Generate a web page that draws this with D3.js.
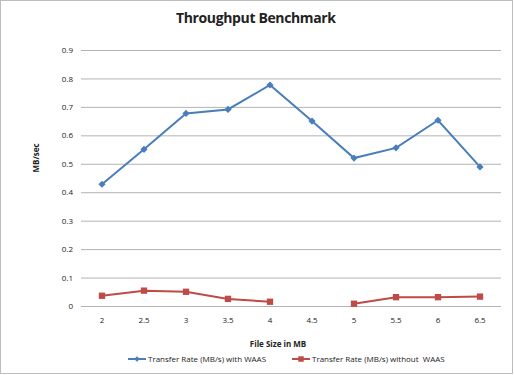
<!DOCTYPE html>
<html>
<head>
<meta charset="utf-8">
<script src="https://cdn.jsdelivr.net/npm/d3@7"></script>
<style>
  body { margin: 0; background: #fff; }
  text { font-family: "Open Sans", "Noto Sans", sans-serif; fill: #222; }
</style>
</head>
<body>
<div id="chart"></div>
<script>
// chart values
const fileSizes = ['2', '2.5', '3', '3.5', '4', '4.5', '5', '5.5', '6', '6.5'];
const withWaas = [0.428, 0.551, 0.677, 0.691, 0.777, 0.650, 0.520, 0.556, 0.653, 0.489];
const withoutWaas = [0.036, 0.054, 0.050, 0.025, 0.015, null, 0.008, 0.031, 0.031, 0.033];
const yTicks = [0, 0.1, 0.2, 0.3, 0.4, 0.5, 0.6, 0.7, 0.8, 0.9];
const seriesNames = ['Transfer Rate (MB/s) with WAAS', 'Transfer Rate (MB/s) without  WAAS'];

const width = 514;
const height = 375;
const blue = '#4a7ebb';
const red = '#be4b48';

const svg = d3.select('#chart').append('svg')
  .attr('width', width)
  .attr('height', height);

// frame round the whole chart
svg.append('rect')
  .attr('x', 0.5).attr('y', 0.5)
  .attr('width', width - 2).attr('height', height - 2)
  .attr('fill', '#fff')
  .attr('stroke', '#bdbdbd');

const x = d3.scaleBand().domain(fileSizes).range([81, 501]);
const y = d3.scaleLinear().domain([0, 0.9]).range([306, 50]);

// gridlines + y tick labels
const yAxis = svg.append('g')
  .attr('transform', 'translate(81,0)')
  .call(d3.axisLeft(y).tickValues(yTicks).tickSize(-420).tickPadding(8)
    .tickFormat(d => d === 0 ? '0' : d3.format('.1f')(d)));
yAxis.select('.domain').remove();
yAxis.selectAll('.tick line').attr('stroke', '#b3b3b3');
yAxis.selectAll('.tick text').style('font-size', '8px').attr('fill', '#333');

// x tick labels
const xAxis = svg.append('g')
  .attr('transform', 'translate(0,306)')
  .call(d3.axisBottom(x).tickSize(0).tickPadding(11));
xAxis.select('.domain').remove();
xAxis.selectAll('.tick text').style('font-size', '8px').attr('fill', '#333');

// titles
svg.append('text')
  .attr('x', 256).attr('y', 23)
  .attr('text-anchor', 'middle')
  .style('font-size', '14px').style('font-weight', 'bold')
  .attr('textLength', 160)
  .text('Throughput Benchmark');

svg.append('text')
  .attr('transform', 'translate(39,158) rotate(-90)')
  .attr('text-anchor', 'middle')
  .style('font-size', '8px').style('font-weight', 'bold')
  .text('MB/sec');

svg.append('text')
  .attr('x', 278).attr('y', 347)
  .attr('text-anchor', 'middle')
  .style('font-size', '8px').style('font-weight', 'bold')
  .text('File Size in MB');

const line = d3.line()
  .defined(d => d.v != null)
  .x(d => x(d.k) + x.bandwidth() / 2)
  .y(d => y(d.v));

// diamonds are drawn as squares turned 45 degrees
function marker(g, shape, size) {
  g.attr('d', d3.symbol().type(d3.symbolSquare).size(size));
  if (shape === 'diamond') g.attr('transform', function() {
    return (this.getAttribute('transform') || '') + ' rotate(45)';
  });
}

function drawSeries(values, color, shape) {
  const pts = fileSizes.map((k, i) => ({k: k, v: values[i]}));
  svg.append('path')
    .datum(pts)
    .attr('fill', 'none')
    .attr('stroke', color)
    .attr('stroke-width', 2)
    .attr('d', line);
  const m = svg.append('g').selectAll('path')
    .data(pts.filter(d => d.v != null))
    .join('path')
    .attr('transform', d => 'translate(' + (x(d.k) + x.bandwidth() / 2) + ',' + y(d.v) + ')')
    .attr('fill', color);
  marker(m, shape, shape === 'diamond' ? 26 : 40);
}

drawSeries(withWaas, blue, 'diamond');
drawSeries(withoutWaas, red, 'square');

// legend
const legend = svg.append('g').attr('transform', 'translate(0,359)');
const legendItems = [
  {name: seriesNames[0], color: blue, shape: 'diamond', x: 128},
  {name: seriesNames[1], color: red, shape: 'square', x: 292}
];
legendItems.forEach(item => {
  const g = legend.append('g').attr('transform', 'translate(' + item.x + ',0)');
  g.append('line').attr('x1', 0).attr('x2', 18)
    .attr('stroke', item.color).attr('stroke-width', 2);
  const m = g.append('path').attr('transform', 'translate(9,0)')
    .attr('fill', item.color);
  marker(m, item.shape, item.shape === 'diamond' ? 16 : 30);
  g.append('text').attr('x', 20).attr('y', 3)
    .style('font-size', '8px').style('white-space', 'pre').attr('fill', '#333')
    .text(item.name);
});
</script>
</body>
</html>
